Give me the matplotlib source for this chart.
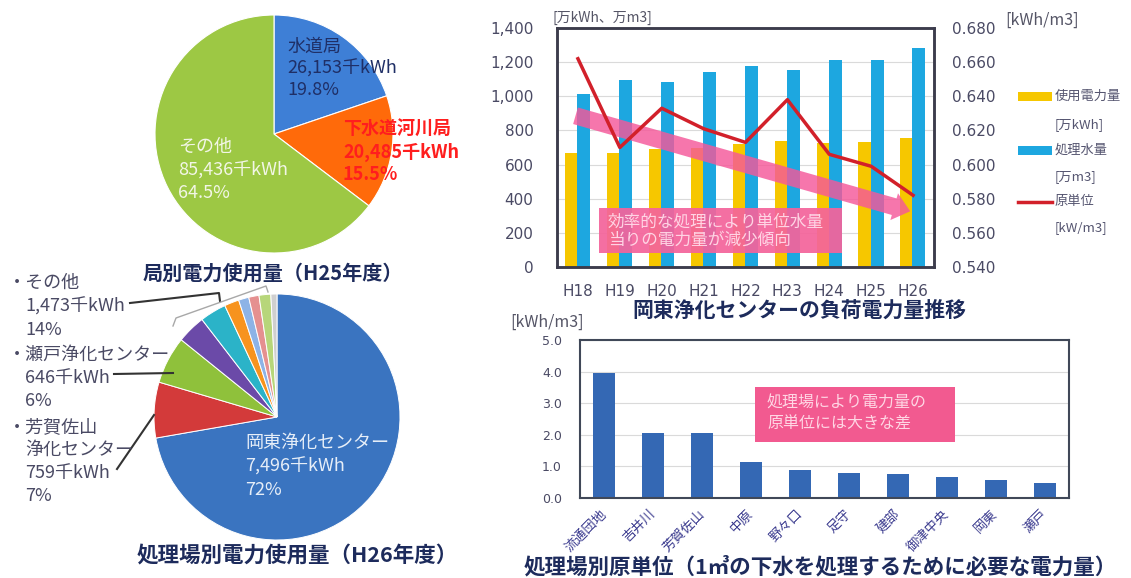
import numpy as np
import matplotlib.pyplot as plt
from matplotlib.patches import Rectangle
from matplotlib.ticker import FuncFormatter

plt.rcParams['font.family'] = ['Noto Sans CJK JP', 'DejaVu Sans']

W, H = 1131, 578

# 局別電力使用量（H25年度）
bureau_names = ['水道局', '下水道河川局', 'その他']
bureau_kwh = [26153, 20485, 85436]
bureau_pct = [19.8, 15.5, 64.5]

# 処理場別電力使用量（H26年度）
plant_names = ['岡東浄化センター', '芳賀佐山浄化センター', '瀬戸浄化センター']
plant_kwh = [7496, 759, 646]
plant_pct = [72, 7, 6]
other_total = 1473
other_pct = 14
other_kwh = [390, 360, 200, 140, 140, 160, 83]

# 岡東浄化センターの負荷電力量推移
years = ['H18', 'H19', 'H20', 'H21', 'H22', 'H23', 'H24', 'H25', 'H26']
power_use = [670, 670, 690, 700, 720, 740, 725, 730, 755]
water_vol = [1015, 1095, 1085, 1140, 1175, 1155, 1210, 1215, 1285]
unit_power = [0.662, 0.610, 0.633, 0.621, 0.613, 0.638, 0.606, 0.599, 0.582]

# 処理場別原単位
plants = ['流通団地', '吉井川', '芳賀佐山', '中原', '野々口', '足守', '建部', '御津中央', '岡東', '瀬戸']
plant_unit = [3.95, 2.05, 2.05, 1.15, 0.88, 0.80, 0.75, 0.68, 0.58, 0.48]

NAVY = '#1D2B5C'
GREY = '#4A4A64'


def box(x0, y0, x1, y1):
    return [x0 / W, 1 - y1 / H, (x1 - x0) / W, (y1 - y0) / H]


fig = plt.figure(figsize=(W / 100, H / 100), dpi=100)

# --- pie: by bureau
ax1 = fig.add_axes(box(155, 15, 393, 253))
ax1.pie(bureau_kwh, colors=['#3E7FD6', '#FF6A0A', '#9DC844'], startangle=90,
        counterclock=False, wedgeprops=dict(edgecolor='white', linewidth=0.8))
ax1.set_xlim(-1, 1)
ax1.set_ylim(-1, 1)

# --- pie: by plant
ax2 = fig.add_axes(box(154, 294, 400, 540))
pie_cols = ['#3A74C0', '#D33A3A', '#8FC13B', '#6B4AA8', '#2BB3C8', '#F7931E',
            '#8DB3E6', '#E59090', '#B7D67A', '#CFCFCF']
ax2.pie(plant_kwh + other_kwh, colors=pie_cols, startangle=90, counterclock=False,
        wedgeprops=dict(edgecolor='white', linewidth=0.7))
ax2.set_xlim(-1, 1)
ax2.set_ylim(-1, 1)

# --- bars + line: 岡東浄化センター
ax3 = fig.add_axes(box(557, 28, 934, 267))
x = np.arange(len(years))
ax3.bar(x - 0.16, power_use, 0.29, color='#F6C700', zorder=2)
ax3.bar(x + 0.14, water_vol, 0.31, color='#1DA7E0', zorder=2)
ax3.set_xlim(-0.5, len(years) - 0.5)
ax3.set_ylim(0, 1400)
ax3.set_yticks(np.arange(0, 1401, 200))
ax3.yaxis.set_major_formatter(FuncFormatter(lambda v, p: f'{int(v):,}'))
ax3.set_xticks(x)
ax3.set_xticklabels(years, family='DejaVu Sans')
ax3.yaxis.grid(True, color='#DADADA', lw=0.8)
ax3.set_axisbelow(True)
ax3.tick_params(axis='y', length=0, labelsize=11, colors=GREY, pad=17)
ax3.tick_params(axis='x', length=0, labelsize=11, colors=GREY, pad=12)
for t in ax3.get_yticklabels():
    t.set_family('DejaVu Sans')
for s in ax3.spines.values():
    s.set_color('#3C3C4C')
    s.set_linewidth(1.8)
ax3.annotate('', xy=(0.944, 0.23), xytext=(0.042, 0.636),
             xycoords='axes fraction', textcoords='axes fraction',
             arrowprops=dict(arrowstyle='simple,head_length=0.6,head_width=1.0,tail_width=0.62',
                             mutation_scale=20, color='#F5589A', alpha=0.82, lw=0),
             zorder=4)

ax3r = ax3.twinx()
ax3r.plot(x, unit_power, color='#D2202A', lw=2.5)
ax3r.set_ylim(0.54, 0.68)
ax3r.set_yticks(np.arange(0.54, 0.6801, 0.02))
ax3r.yaxis.set_major_formatter(FuncFormatter(lambda v, p: f'{v:.3f}'))
ax3r.tick_params(axis='y', length=0, labelsize=11, colors=GREY, pad=13)
for t in ax3r.get_yticklabels():
    t.set_family('DejaVu Sans')
for s in ax3r.spines.values():
    s.set_color('#3C3C4C')
    s.set_linewidth(1.8)

# --- bars: 処理場別原単位
ax4 = fig.add_axes(box(580, 340, 1069, 498))
xp = np.arange(len(plants))
ax4.bar(xp, plant_unit, 0.45, color='#3468B4', zorder=2)
ax4.set_xlim(-0.5, len(plants) - 0.5)
ax4.set_ylim(0, 5)
ax4.set_yticks(np.arange(0, 5.01, 1))
ax4.yaxis.set_major_formatter(FuncFormatter(lambda v, p: f'{v:.1f}'))
ax4.set_xticks(xp)
ax4.set_xticklabels(plants, rotation=45, ha='right', va='center',
                    rotation_mode='anchor', fontsize=9.5, color='#3A3A8E')
ax4.yaxis.grid(True, color='#DADADA', lw=0.8)
ax4.set_axisbelow(True)
ax4.tick_params(axis='y', length=0, labelsize=9, colors=GREY, pad=13)
ax4.tick_params(axis='x', length=0, pad=10)
for t in ax4.get_yticklabels():
    t.set_family('DejaVu Sans')
for s in ax4.spines.values():
    s.set_color('#404858')
    s.set_linewidth(1.5)

# --- overlay for labels, leader lines and notes (pixel coordinates)
ov = fig.add_axes([0, 0, 1, 1])
ov.set_xlim(0, W)
ov.set_ylim(H, 0)
ov.axis('off')


def lines(x0, y0, texts, step, **kw):
    for i, t in enumerate(texts):
        ov.text(x0, y0 + i * step, t, va='center', **kw)


lines(287, 47, [bureau_names[0], f'{bureau_kwh[0]:,}千kWh', f'{bureau_pct[0]}%'], 21.5,
      fontsize=13, color='#1F2F66')
lines(343, 129, [bureau_names[1], f'{bureau_kwh[1]:,}千kWh', f'{bureau_pct[1]}%'], 23,
      fontsize=13, color='#FF1E1E', fontweight='bold')
lines(178, 147, [bureau_names[2], f'{bureau_kwh[2]:,}千kWh', f'{bureau_pct[2]}%'], 23,
      fontsize=13, color='#F2F6E6')

lines(8, 283, ['・その他', f'{other_total:,}千kWh', f'{other_pct}%'], 23.5,
      fontsize=13, color=GREY)
lines(8, 355, ['・瀬戸浄化センター', f'{plant_kwh[2]:,}千kWh', f'{plant_pct[2]}%'], 23,
      fontsize=13, color=GREY)
lines(8, 427, ['・芳賀佐山', '浄化センター', f'{plant_kwh[1]:,}千kWh', f'{plant_pct[1]}%'], 23,
      fontsize=13, color=GREY)
for t in ov.texts[-10:]:
    if not t.get_text().startswith('・'):
        t.set_x(25)
lines(245, 443, [plant_names[0], f'{plant_kwh[0]:,}千kWh', f'{plant_pct[0]}%'], 23.5,
      fontsize=13, color='#E6EEF8')

# leader lines and bracket for the small slices
ov.plot([130, 219, 220], [303, 293, 301], color='#333333', lw=1.5)
ov.plot([114, 173], [374, 373], color='#333333', lw=1.5)
ov.plot([117, 154], [469, 415], color='#333333', lw=1.5)
ov.plot([173, 176, 266, 268], [326, 318, 286, 292], color='#A8A8A8', lw=1)

# titles
ov.text(273, 273, '局別電力使用量（H25年度）', ha='center', va='center',
        fontsize=14.5, fontweight='bold', color=NAVY)
ov.text(297, 556, '処理場別電力使用量（H26年度）', ha='center', va='center',
        fontsize=15.5, fontweight='bold', color=NAVY)
ov.text(799, 310, '岡東浄化センターの負荷電力量推移', ha='center', va='center',
        fontsize=15, fontweight='bold', color=NAVY)
ov.text(820, 567, '処理場別原単位（1㎥の下水を処理するために必要な電力量）', ha='center',
        va='center', fontsize=15.5, fontweight='bold', color=NAVY)

# axis unit labels
ov.text(552, 18, '[万kWh、万m3]', va='center', fontsize=10, color='#555566')
ov.text(1005, 20, '[kWh/m3]', va='center', fontsize=11.5, color='#555566')
ov.text(510, 322, '[kWh/m3]', va='center', fontsize=11.5, color='#555566')

# legend
ov.add_patch(Rectangle((1018, 92), 34, 9, fc='#F6C700', ec='none'))
ov.add_patch(Rectangle((1018, 146), 34, 9, fc='#1DA7E0', ec='none'))
ov.plot([1018, 1052], [202, 202], color='#D2202A', lw=2.5)
lines(1055, 96, ['使用電力量', '[万kWh]'], 29, fontsize=9.5, color='#555570')
lines(1055, 150, ['処理水量', '[万m3]'], 27, fontsize=9.5, color='#555570')
lines(1055, 202, ['原単位', '[kW/m3]'], 26, fontsize=9.5, color='#555570')

# notes
ov.add_patch(Rectangle((599, 208), 243, 45, fc='#F4649B', ec='none', alpha=0.93))
lines(608, 222, ['効率的な処理により単位水量', '当りの電力量が減少傾向'], 18,
      fontsize=12, color='#FFD4E4')
ov.add_patch(Rectangle((755, 387), 200, 55, fc='#F25A90', ec='none'))
lines(767, 403, ['処理場により電力量の', '原単位には大きな差'], 21,
      fontsize=11.5, color='#FFD6E4')

fig.savefig('out.png', dpi=100)
